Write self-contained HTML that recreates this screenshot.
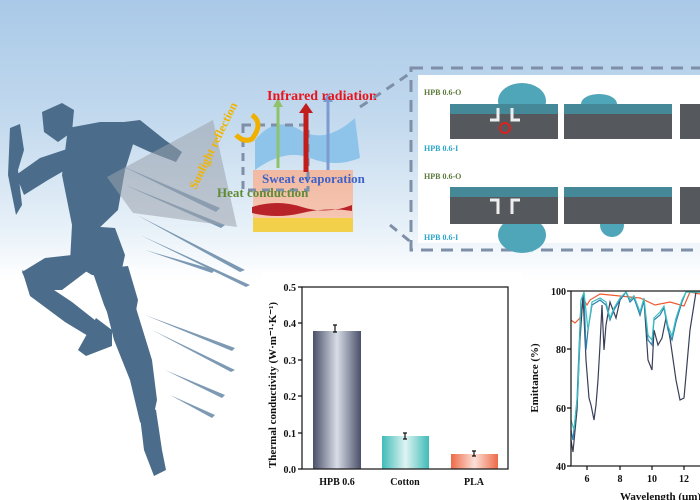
<!DOCTYPE html>
<html><head><meta charset="utf-8"><style>
html,body{margin:0;padding:0;width:700px;height:500px;overflow:hidden;background:#fff}
svg{display:block}
text{font-family:"Liberation Serif",serif;font-weight:bold}
</style></head><body>
<svg width="700" height="500" viewBox="0 0 700 500" xmlns="http://www.w3.org/2000/svg">
<defs>
<linearGradient id="bg" x1="0" y1="0" x2="0" y2="1">
<stop offset="0" stop-color="#a9c9e8"/><stop offset="0.25" stop-color="#c4daee"/><stop offset="0.45" stop-color="#e6f0f8"/><stop offset="0.56" stop-color="#fff"/></linearGradient>
<linearGradient id="b1" x1="0" x2="1"><stop offset="0" stop-color="#4a5068"/><stop offset="0.5" stop-color="#d8dde8"/><stop offset="1" stop-color="#4a5068"/></linearGradient>
<linearGradient id="b2" x1="0" x2="1"><stop offset="0" stop-color="#3fbcb8"/><stop offset="0.5" stop-color="#dff3f2"/><stop offset="1" stop-color="#3fbcb8"/></linearGradient>
<linearGradient id="b3" x1="0" x2="1"><stop offset="0" stop-color="#ee6a48"/><stop offset="0.5" stop-color="#fbe0d7"/><stop offset="1" stop-color="#ee6a48"/></linearGradient>
<linearGradient id="skin" x1="0" y1="0" x2="0" y2="1"><stop offset="0" stop-color="#f1b9a2"/><stop offset="1" stop-color="#f6c9b6"/></linearGradient>
</defs>
<rect width="700" height="500" fill="url(#bg)"/>
<!-- runner -->
<g fill="#4b6d8b">
<polygon points="42,112 62,103 74,110 72,132 58,142 44,132"/>
<polygon points="68,128 100,122 140,122 125,170 118,210 95,232 72,225 62,175"/>
<polygon points="10,128 20,124 24,150 18,170 22,205 16,215 8,175"/>
<polygon points="16,175 40,158 70,148 74,165 48,180 24,195"/>
<polygon points="100,125 140,120 165,140 182,152 176,162 150,152 128,142"/>
<polygon points="72,225 115,228 125,255 120,278 92,275 70,262"/>
<polygon points="72,255 95,265 62,290 30,290 22,272 45,258"/>
<polygon points="22,270 42,282 72,302 105,328 98,342 65,322 30,296"/>
<polygon points="92,270 128,266 138,300 132,332 120,342 104,305"/>
<polygon points="104,300 136,308 152,360 157,400 150,432 140,422 130,380 114,340"/>
<polygon points="138,400 156,410 162,450 166,470 154,476 144,450"/>
<polygon points="96,318 112,330 112,346 86,356 78,350"/>
</g>
<g fill="#6f8fab" opacity="0.9">
<polygon points="120,165 220,208 216,212"/><polygon points="125,185 225,225 221,228"/>
<polygon points="137,215 245,270 240,272"/><polygon points="140,235 250,285 246,287"/>
<polygon points="145,250 215,270 212,273"/><polygon points="145,315 235,348 232,351"/>
<polygon points="152,330 235,370 231,372"/><polygon points="165,370 225,395 222,398"/>
<polygon points="170,395 215,415 212,418"/>
</g>
<polygon points="107,177 213,120 237,227 133,213" fill="#9aa3ad" opacity="0.55"/>
<!-- skin block -->
<rect x="253" y="170" width="100" height="60" fill="url(#skin)"/>
<path d="M252,207 q25,-8 50,0 t50,-2 v6 q-25,-4 -50,2 t-50,0z" fill="#b8232a"/>
<rect x="253" y="218" width="100" height="14" fill="#f2d04a"/>
<path d="M255,140 q20,-25 45,-10 t55,-12 l5,40 q-25,10 -50,0 t-55,12z" fill="#8ec4ea"/>
<rect x="243" y="125" width="65" height="65" fill="none" stroke="#7f8fa8" stroke-width="3" stroke-dasharray="8,6"/>
<line x1="278" y1="168" x2="278" y2="105" stroke="#8fc36b" stroke-width="3"/><polygon points="273,107 283,107 278,98" fill="#8fc36b"/>
<line x1="306" y1="172" x2="306" y2="112" stroke="#c21d1d" stroke-width="5"/><polygon points="299,113 313,113 306,103" fill="#c21d1d"/>
<line x1="328" y1="170" x2="328" y2="100" stroke="#7c9bd0" stroke-width="3"/><polygon points="323,102 333,102 328,93" fill="#7c9bd0"/>
<path d="M252,115 q12,8 0,24 q-8,4 -16,-4" fill="none" stroke="#f0b000" stroke-width="5"/>
<text x="267" y="100" font-size="14" fill="#e8141b">Infrared radiation</text>
<text x="262" y="183" font-size="13" fill="#3e62c8">Sweat evaporation</text>
<text x="217" y="197" font-size="13" fill="#5f8b36">Heat conduction</text>
<text x="0" y="0" font-size="12" fill="#f0b400" transform="translate(196,190) rotate(-64)">Sunlight reflection</text>
<!-- dashed zoom box -->
<line x1="360" y1="107" x2="412" y2="72" stroke="#7f8fa8" stroke-width="3" stroke-dasharray="9,7"/>
<line x1="390" y1="225" x2="412" y2="243" stroke="#7f8fa8" stroke-width="3" stroke-dasharray="9,7"/>
<rect x="418" y="75" width="290" height="168" fill="#fff"/>
<rect x="411" y="68" width="300" height="182" fill="none" stroke="#7f8fa8" stroke-width="3" stroke-dasharray="12,8"/>
<g>
<ellipse cx="522" cy="101" rx="24" ry="18" fill="#4ea6b8"/>
<ellipse cx="599" cy="104" rx="18" ry="10" fill="#4ea6b8"/>
<rect x="450" y="104" width="108" height="35" fill="#55595e"/>
<rect x="564" y="104" width="108" height="35" fill="#55595e"/>
<rect x="680" y="104" width="30" height="35" fill="#55595e"/>
<rect x="450" y="104" width="108" height="10" fill="#3f9db0" opacity="0.7"/>
<rect x="564" y="104" width="108" height="10" fill="#3f9db0" opacity="0.7"/>
<ellipse cx="522" cy="235" rx="24" ry="18" fill="#4ea6b8"/>
<ellipse cx="612" cy="225" rx="12" ry="12" fill="#4ea6b8"/>
<rect x="450" y="187" width="108" height="37" fill="#55595e"/>
<rect x="564" y="187" width="108" height="37" fill="#55595e"/>
<rect x="680" y="187" width="30" height="37" fill="#55595e"/>
<rect x="450" y="187" width="108" height="10" fill="#3f9db0" opacity="0.7"/>
<rect x="564" y="187" width="108" height="10" fill="#3f9db0" opacity="0.7"/>
<circle cx="505" cy="128" r="5" fill="none" stroke="#e0201f" stroke-width="2"/>
<path d="M498,108 v12 h-8 M512,108 v12 h8" stroke="#eee" stroke-width="3" fill="none"/>
<path d="M498,214 v-14 h-8 M512,214 v-14 h8" stroke="#eee" stroke-width="3" fill="none"/>
</g>
<g font-size="8">
<text x="424" y="95" fill="#5c7a3a">HPB 0.6-O</text>
<text x="424" y="151" fill="#2aa6c8">HPB 0.6-I</text>
<text x="424" y="179" fill="#5c7a3a">HPB 0.6-O</text>
<text x="424" y="240" fill="#2aa6c8">HPB 0.6-I</text>
</g>
<!-- bar chart -->
<rect x="262" y="272" width="260" height="228" fill="#fff"/>
<rect x="313" y="331" width="48" height="138" fill="url(#b1)"/>
<rect x="382" y="436" width="47" height="33" fill="url(#b2)"/>
<rect x="451" y="454" width="47" height="15" fill="url(#b3)"/>
<rect x="302" y="287" width="206" height="182" fill="none" stroke="#222" stroke-width="1.3"/>
<g stroke="#111" stroke-width="1.2" fill="none">
<path d="M335,325 v7 M333,325 h4 M333,332 h4"/>
<path d="M405,433 v6 M403,433 h4 M403,439 h4"/>
<path d="M474,451 v5 M472,451 h4 M472,456 h4"/>
<path d="M302,287 h-4 M302,323 h-4 M302,360 h-4 M302,396 h-4 M302,433 h-4 M302,469 h-4"/>
</g>
<g font-size="10" fill="#111" text-anchor="end">
<text x="296" y="291">0.5</text><text x="296" y="327">0.4</text><text x="296" y="364">0.3</text>
<text x="296" y="400">0.2</text><text x="296" y="437">0.1</text><text x="296" y="473">0.0</text>
</g>
<g font-size="10" fill="#111" text-anchor="middle">
<text x="337" y="485">HPB 0.6</text><text x="405" y="485">Cotton</text><text x="474" y="485">PLA</text>
</g>
<text transform="translate(276,385) rotate(-90)" font-size="11" fill="#111" text-anchor="middle">Thermal conductivity (W·m⁻¹·K⁻¹)</text>
<!-- emittance -->
<rect x="522" y="280" width="178" height="220" fill="#fff"/>
<polyline fill="none" stroke="#f05a30" stroke-width="1.2" points="571,320 575,323 580,318 584,300 587,305 590,300 600,294 620,296 640,298 655,305 670,302 684,306 690,292 700,294"/>
<polyline fill="none" stroke="#3a3f58" stroke-width="1.2" points="571,440 573,452 577,410 580,340 583,295 586,360 589,398 591,405 594,420 596,405 598,380 600,345 602,305 604,350 606,325 610,302 616,318 620,300 626,292 630,300 634,296 640,315 644,300 648,360 652,370 654,330 658,345 662,338 666,318 670,338 676,380 680,400 684,398 690,330 696,292 700,292"/>
<polyline fill="none" stroke="#2a7fb0" stroke-width="1.2" points="571,430 573,440 577,400 581,300 584,295 586,350 588,330 592,305 600,300 606,305 610,320 614,310 620,300 626,292 630,302 634,298 640,315 644,300 648,340 652,345 654,320 660,315 664,308 668,330 672,340 676,322 682,302 686,292 700,292"/>
<polyline fill="none" stroke="#3cc0c0" stroke-width="1.2" points="571,420 574,430 578,390 581,300 584,292 588,330 592,302 600,298 606,302 610,318 614,308 620,298 626,292 630,300 634,296 640,312 644,298 648,335 652,340 654,318 660,312 664,306 668,326 672,336 676,318 682,300 686,292 700,292"/>
<path d="M571,291 V466 H700 M571,291 H700" fill="none" stroke="#222" stroke-width="1.3"/>
<g stroke="#111" stroke-width="1.2"><path d="M571,291 h-4 M571,349 h-4 M571,408 h-4 M571,466 h-4 M587,466 v4 M620,466 v4 M652,466 v4 M684,466 v4"/></g>
<g font-size="10" fill="#111" text-anchor="end">
<text x="566" y="295">100</text><text x="566" y="353">80</text><text x="566" y="412">60</text><text x="566" y="470">40</text>
</g>
<g font-size="10" fill="#111" text-anchor="middle">
<text x="587" y="482">6</text><text x="620" y="482">8</text><text x="652" y="482">10</text><text x="684" y="482">12</text>
</g>
<text x="620" y="500" font-size="11" fill="#111">Wavelength (μm)</text>
<text transform="translate(538,378) rotate(-90)" font-size="11" fill="#111" text-anchor="middle">Emittance (%)</text>
</svg>
</body></html>
